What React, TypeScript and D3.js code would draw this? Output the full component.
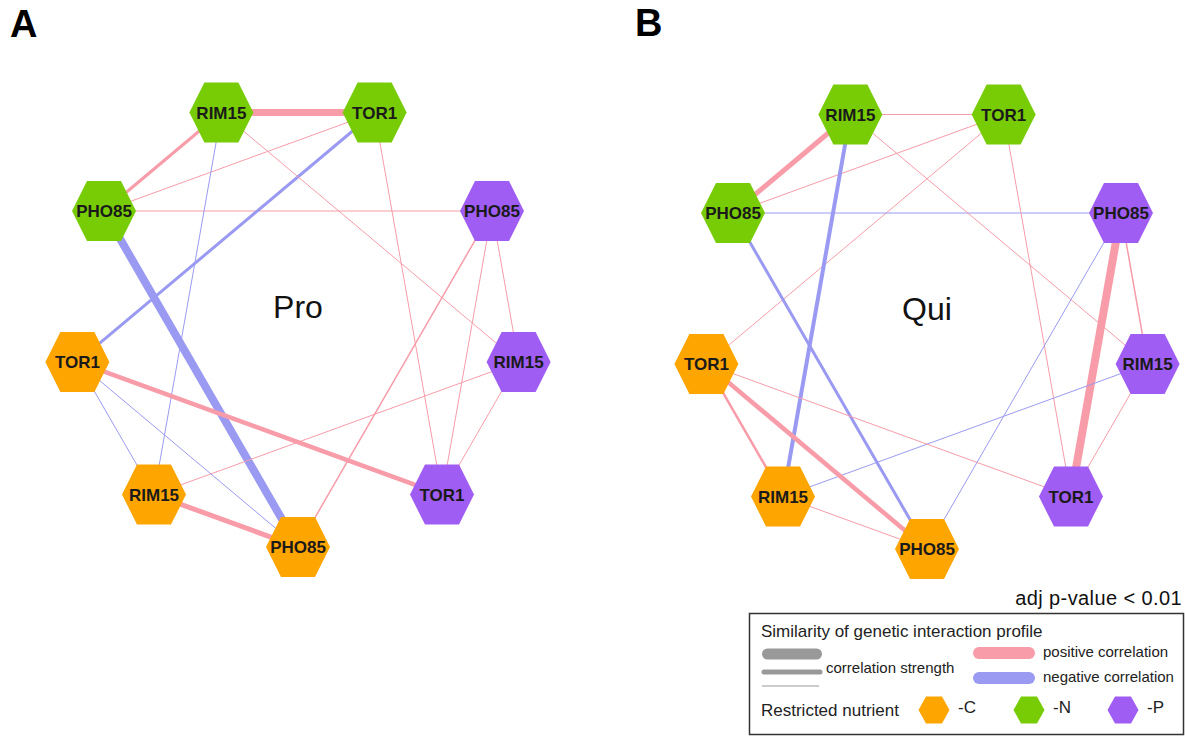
import React from "react";
import * as d3 from "d3";

// ---- data ----
const nodeGenes = ["PHO85", "RIM15", "TOR1", "PHO85", "RIM15", "TOR1", "PHO85", "RIM15", "TOR1"];
const nodeNutrients = ["-C", "-C", "-C", "-N", "-N", "-N", "-P", "-P", "-P"];
const nutrients = ["-C", "-N", "-P"];
const nutrientColors = ["#FFA500", "#77CC06", "#A05DF3"];

// node ids: C_PHO85=0, C_RIM15=1, C_TOR1=2, N_PHO85=3, N_RIM15=4, N_TOR1=5, P_PHO85=6, P_RIM15=7, P_TOR1=8
const proSource = [4, 4, 5, 3, 5, 3, 4, 4, 5, 6, 6, 6, 7, 7, 2, 2, 2, 1];
const proTarget = [5, 3, 3, 6, 2, 0, 1, 7, 8, 0, 7, 8, 8, 1, 8, 1, 0, 0];
const proCorr = [0.7, 0.3, 0.1, 0.1, -0.3, -0.8, -0.1, 0.1, 0.1, 0.15, 0.1, 0.1, 0.1, 0.1, 0.45, -0.1, -0.1, 0.5];

const quiSource = [4, 4, 5, 5, 3, 4, 3, 4, 5, 6, 6, 6, 7, 7, 2, 2, 2, 1];
const quiTarget = [5, 3, 3, 2, 6, 1, 0, 7, 8, 8, 7, 0, 8, 1, 8, 1, 0, 0];
const quiCorr = [0.1, 0.5, 0.1, 0.1, -0.1, -0.4, -0.3, 0.1, 0.1, 0.8, 0.15, -0.1, 0.1, -0.1, 0.1, 0.25, 0.45, 0.1];

const panelLetters = ["A", "B"];
const panelTitles = ["Pro", "Qui"];

const POS = "#F79CA8";
const NEG = "#9A9AF2";

const hexPts = (rx: number, ex: number, ry: number) =>
  [[-rx, 0], [-ex, -ry], [ex, -ry], [rx, 0], [ex, ry], [-ex, ry]].map((p) => p.join(",")).join(" ");

const widthScale = d3.scaleLinear().domain([0, 1]).range([0, 10]);
const angleScale = d3.scaleLinear().domain([0, 9]).range([Math.PI / 2, Math.PI / 2 + 2 * Math.PI]);
const colorScale = d3.scaleOrdinal<string, string>().domain(nutrients).range(nutrientColors);

const FONT = "'Liberation Sans', Arial, sans-serif";

function Panel({ cx, cy, R, src, tgt, corr, title }: any) {
  const pos = nodeGenes.map((_, i) => [cx + R * Math.cos(angleScale(i)), cy + R * Math.sin(angleScale(i))]);
  return (
    <g>
      {src.map((s: number, k: number) => (
        <line
          key={k}
          x1={pos[s][0]}
          y1={pos[s][1]}
          x2={pos[tgt[k]][0]}
          y2={pos[tgt[k]][1]}
          stroke={corr[k] > 0 ? POS : NEG}
          strokeWidth={widthScale(Math.abs(corr[k]))}
        />
      ))}
      <text x={cx} y={cy - 5} textAnchor="middle" fontSize={32} fontFamily={FONT} fill="#111">
        {title}
      </text>
      {nodeGenes.map((g, i) => (
        <g key={i} transform={`translate(${pos[i][0]},${pos[i][1]})`}>
          <polygon points={hexPts(32, 17, 30)} fill={colorScale(nodeNutrients[i])} />
          <text y={6} textAnchor="middle" fontSize={17} fontWeight="bold" fontFamily={FONT} fill="#1a1a1a">
            {g}
          </text>
        </g>
      ))}
    </g>
  );
}

export default function App() {
  const legendHexX = [934, 1029, 1123];
  return (
    <svg width={1185} height={736} style={{ position: "absolute", left: 0, top: 0, background: "#fff" }}>
      <rect width={1185} height={736} fill="#fff" />
      <text x={10} y={37} fontSize={38} fontWeight="bold" fontFamily={FONT}>{panelLetters[0]}</text>
      <text x={635} y={36} fontSize={38} fontWeight="bold" fontFamily={FONT}>{panelLetters[1]}</text>
      <Panel cx={298} cy={323} R={224} src={proSource} tgt={proTarget} corr={proCorr} title={panelTitles[0]} />
      <Panel cx={927} cy={325} R={224} src={quiSource} tgt={quiTarget} corr={quiCorr} title={panelTitles[1]} />

      <text x={1182} y={605} textAnchor="end" fontSize={20} letterSpacing={0.4} fontFamily={FONT} fill="#111">adj p-value &lt; 0.01</text>
      <rect x={749.5} y={613.5} width={434} height={121} fill="none" stroke="#333" strokeWidth={1.5} />
      <text x={761} y={637} fontSize={17} fontFamily={FONT} fill="#222">Similarity of genetic interaction profile</text>
      <line x1={767.5} x2={816.5} y1={654} y2={654} stroke="#999" strokeWidth={11} strokeLinecap="round" />
      <line x1={764} x2={820} y1={672} y2={672} stroke="#999" strokeWidth={5} strokeLinecap="round" />
      <line x1={762} x2={819} y1={686} y2={686} stroke="#999" strokeWidth={1} />
      <text x={826} y={673} fontSize={15} fontFamily={FONT} fill="#222">correlation strength</text>
      <line x1={979} x2={1029} y1={653} y2={653} stroke={POS} strokeWidth={12} strokeLinecap="round" />
      <line x1={979} x2={1029} y1={678} y2={678} stroke={NEG} strokeWidth={12} strokeLinecap="round" />
      <text x={1043} y={657} fontSize={15} fontFamily={FONT} fill="#222">positive correlation</text>
      <text x={1043} y={682} fontSize={15} fontFamily={FONT} fill="#222">negative correlation</text>
      <text x={761} y={716} fontSize={17} fontFamily={FONT} fill="#222">Restricted nutrient</text>
      {nutrients.map((n, i) => (
        <g key={n}>
          <polygon transform={`translate(${legendHexX[i]},710)`} points={hexPts(15.5, 8, 13.5)} fill={colorScale(n)} />
          <text x={legendHexX[i] + 24} y={713} fontSize={17} fontFamily={FONT} fill="#222">{n}</text>
        </g>
      ))}
    </svg>
  );
}
